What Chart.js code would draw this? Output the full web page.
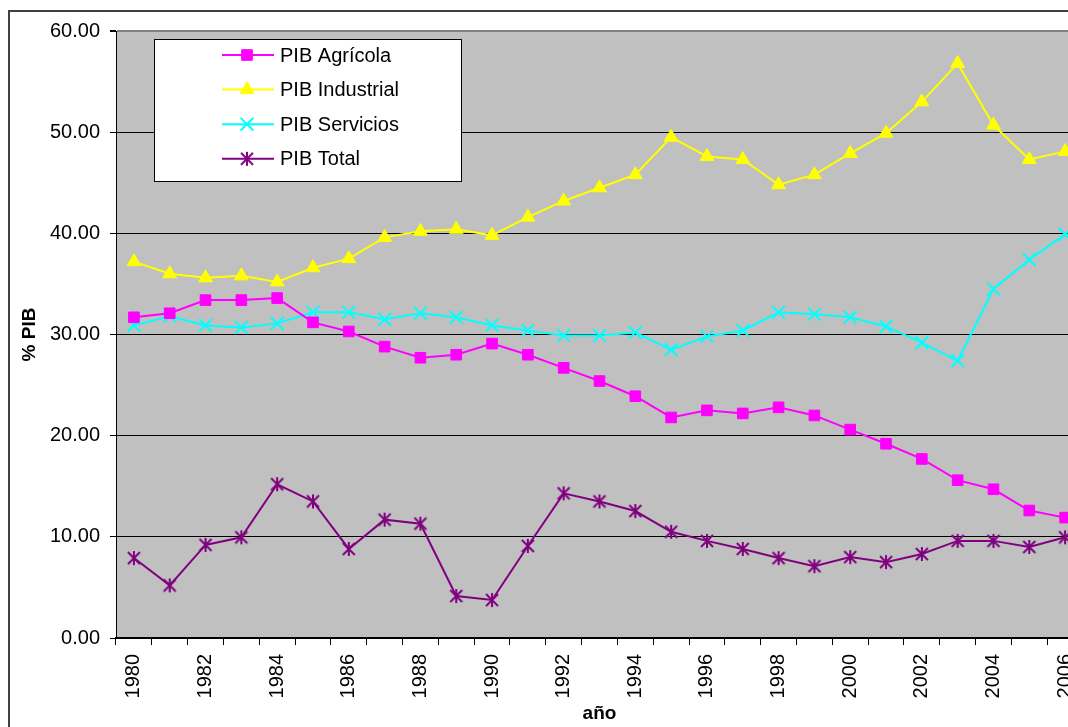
<!DOCTYPE html>
<html>
<head>
<meta charset="utf-8">
<script src="https://cdn.jsdelivr.net/npm/chart.js@4/dist/chart.umd.min.js"></script>
<style>
  html, body { margin: 0; padding: 0; background: #fff; overflow: hidden; width: 1068px; height: 727px; }
  #wrap { position: absolute; left: 0; top: 0; }
</style>
</head>
<body>
<div id="wrap"><canvas id="chart-pib" width="1100" height="727"></canvas></div>
<script>
const years = ['1980', '1981', '1982', '1983', '1984', '1985', '1986', '1987', '1988', '1989',
  '1990', '1991', '1992', '1993', '1994', '1995', '1996', '1997', '1998', '1999',
  '2000', '2001', '2002', '2003', '2004', '2005', '2006'];

const pibAgricola = [31.7, 32.1, 33.4, 33.4, 33.6, 31.2, 30.3, 28.8, 27.7, 28.0,
  29.1, 28.0, 26.7, 25.4, 23.9, 21.8, 22.5, 22.2, 22.8, 22.0,
  20.6, 19.2, 17.7, 15.6, 14.7, 12.6, 11.9];
const pibIndustrial = [37.2, 36.0, 35.6, 35.8, 35.2, 36.6, 37.5, 39.6, 40.2, 40.4,
  39.8, 41.6, 43.2, 44.5, 45.8, 49.5, 47.6, 47.3, 44.8, 45.8,
  47.9, 49.9, 53.0, 56.8, 50.7, 47.3, 48.1];
const pibServicios = [30.9, 31.8, 30.9, 30.7, 31.1, 32.2, 32.2, 31.5, 32.1, 31.7,
  30.9, 30.4, 29.9, 29.9, 30.2, 28.5, 29.8, 30.4, 32.2, 32.0,
  31.7, 30.8, 29.2, 27.4, 34.5, 37.4, 39.9];
const pibTotal = [7.9, 5.2, 9.2, 9.95, 15.2, 13.5, 8.8, 11.7, 11.3, 4.15,
  3.75, 9.1, 14.3, 13.5, 12.55, 10.5, 9.6, 8.8, 7.9, 7.1,
  8.0, 7.5, 8.3, 9.6, 9.6, 9.0, 9.95];

const yTicks = [0, 10, 20, 30, 40, 50, 60];

const fontName = '"Liberation Sans", Arial, sans-serif';

// marcador asterisco estilo Excel (vertical + aspa)
function asterisk(color) {
  const c = document.createElement('canvas');
  c.width = 16;
  c.height = 16;
  const g = c.getContext('2d');
  g.strokeStyle = color;
  g.lineWidth = 2;
  g.beginPath();
  g.moveTo(8, 1); g.lineTo(8, 15);
  g.moveTo(2, 2); g.lineTo(14, 14);
  g.moveTo(14, 2); g.lineTo(2, 14);
  g.stroke();
  return c;
}

// fondo gris del área del gráfico y borde exterior
const plotBackground = {
  id: 'plotBackground',
  beforeDraw(chart) {
    const ctx = chart.ctx;
    const a = chart.chartArea;
    ctx.save();
    ctx.strokeStyle = '#404040';
    ctx.lineWidth = 2;
    ctx.strokeRect(9, 11, 3000, 3000);
    ctx.fillStyle = '#C0C0C0';
    ctx.fillRect(a.left, a.top, a.right - a.left, a.bottom - a.top);
    ctx.restore();
  }
};

// leyenda en caja blanca dentro del gráfico
const boxLegend = {
  id: 'boxLegend',
  afterDraw(chart) {
    const ctx = chart.ctx;
    ctx.save();
    ctx.fillStyle = '#fff';
    ctx.fillRect(154, 39, 307, 142);
    ctx.strokeStyle = '#000';
    ctx.lineWidth = 1;
    ctx.strokeRect(154.5, 39.5, 307, 142);
    ctx.font = '20px ' + fontName;
    ctx.textBaseline = 'middle';
    chart.data.datasets.forEach((ds, i) => {
      const y = 55 + i * 34.6;
      ctx.strokeStyle = ds.borderColor;
      ctx.lineWidth = ds.borderWidth;
      ctx.beginPath();
      ctx.moveTo(222, y);
      ctx.lineTo(274, y);
      ctx.stroke();
      ctx.fillStyle = ds.pointBackgroundColor;
      ctx.strokeStyle = ds.pointBorderColor;
      ctx.lineWidth = ds.pointBorderWidth;
      Chart.helpers.drawPoint(ctx, {
        pointStyle: ds.pointStyle,
        radius: ds.pointRadius,
        rotation: 0,
        borderWidth: ds.pointBorderWidth
      }, 247, y);
      ctx.fillStyle = '#000';
      ctx.fillText(ds.label, 280, y + 1);
    });
    ctx.restore();
  }
};

function serie(label, data, color, style, radius, bw) {
  return {
    label: label,
    data: data,
    borderColor: color,
    backgroundColor: color,
    borderWidth: 2,
    pointStyle: style,
    pointRadius: radius,
    pointHoverRadius: radius,
    pointBackgroundColor: color,
    pointBorderColor: color,
    pointBorderWidth: bw,
    tension: 0
  };
}

new Chart(document.getElementById('chart-pib'), {
  type: 'line',
  data: {
    labels: years,
    datasets: [
      serie('PIB Agrícola', pibAgricola, '#FF00FF', 'rect', 7.5, 1),
      serie('PIB Industrial', pibIndustrial, '#FFFF00', 'triangle', 8, 1),
      serie('PIB Servicios', pibServicios, '#00FFFF', 'crossRot', 9, 2),
      serie('PIB Total', pibTotal, '#800080', asterisk('#800080'), 8, 2)
    ]
  },
  options: {
    responsive: false,
    animation: false,
    events: [],
    layout: { padding: { left: 14, top: 31, right: 17, bottom: 0 } },
    plugins: {
      legend: { display: false },
      tooltip: { enabled: false }
    },
    scales: {
      x: {
        offset: true,
        grid: {
          offset: true,
          drawOnChartArea: false,
          drawTicks: true,
          tickLength: 7,
          tickColor: '#000'
        },
        border: { color: '#000', width: 2 },
        ticks: {
          autoSkip: false,
          minRotation: 90,
          maxRotation: 90,
          padding: 9,
          color: '#000',
          font: { family: fontName, size: 20 },
          callback: function (value, index) {
            return index % 2 === 0 ? this.getLabelForValue(value) : '';
          }
        },
        title: {
          display: true,
          text: 'año',
          color: '#000',
          padding: { top: 0, bottom: 2 },
          font: { family: fontName, size: 19, weight: 'bold' }
        },
        afterFit(scale) { scale.height = 89; }
      },
      y: {
        min: 0,
        max: 60,
        afterBuildTicks(scale) { scale.ticks = yTicks.map(v => ({ value: v })); },
        grid: {
          color: ctx => (ctx.tick && ctx.tick.value === 60 ? '#808080' : '#000'),
          lineWidth: ctx => (ctx.tick && ctx.tick.value === 60 ? 2 : 1),
          tickLength: 6,
          tickColor: '#000'
        },
        border: { color: '#000', width: 1 },
        ticks: {
          padding: 10,
          color: '#000',
          font: { family: fontName, size: 20 },
          callback: v => Number(v).toFixed(2)
        },
        title: {
          display: true,
          text: '% PIB',
          color: '#000',
          padding: { top: 4, bottom: 0 },
          font: { family: fontName, size: 19, weight: 'bold' }
        },
        afterFit(scale) { scale.width = 102; }
      }
    }
  },
  plugins: [plotBackground, boxLegend]
});
</script>
</body>
</html>
